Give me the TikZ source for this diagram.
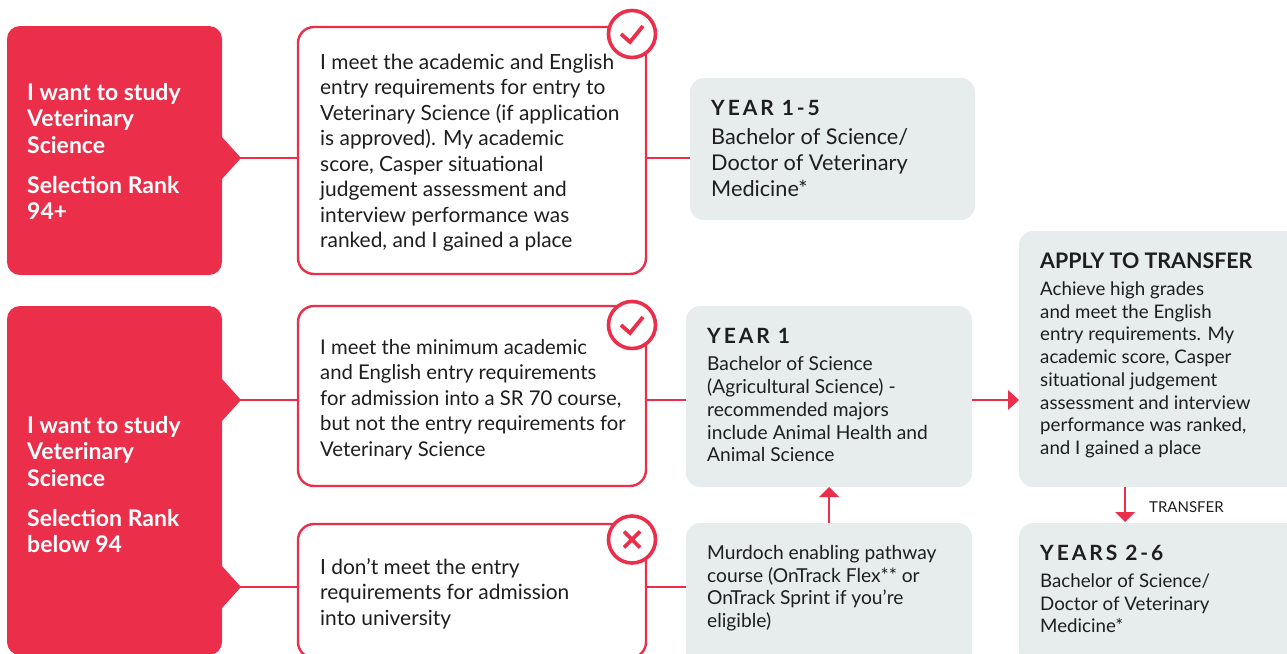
\documentclass[tikz,border=0pt]{standalone}
\usepackage{fontspec}
\setmainfont{Lato}
\definecolor{mred}{HTML}{EB2F4B}
\definecolor{mgrey}{HTML}{E6EDEC}
\definecolor{mtext}{HTML}{1E1E1E}
\tikzset{
  x=1pt,y=-1pt,
  redbox/.style={fill=mred,rounded corners=13pt},
  whitebox/.style={draw=mred,line width=2.4pt,fill=white,rounded corners=16pt},
  greybox/.style={fill=mgrey,rounded corners=14pt},
  link/.style={draw=mred,line width=2.4pt},
  body/.style={anchor=north west,align=left,inner sep=0pt,text=mtext,font=\fontsize{20.9}{25.5}\selectfont},
  bodyb/.style={anchor=north west,align=left,inner sep=0pt,text=mtext,font=\fontsize{20.3}{25.5}\selectfont},
  small/.style={anchor=north west,align=left,inner sep=0pt,text=mtext,font=\fontsize{19.2}{22.75}\selectfont},
  smaller/.style={anchor=north west,align=left,inner sep=0pt,text=mtext,font=\fontsize{18.7}{22.75}\selectfont},
  large/.style={anchor=north west,align=left,inner sep=0pt,text=mtext,font=\fontsize{21.7}{26}\selectfont},
  head/.style={anchor=north west,inner sep=0pt,text=mtext,font=\fontsize{21}{25}\selectfont\bfseries},
  redtext/.style={anchor=north west,align=left,inner sep=0pt,text=white,font=\fontsize{23}{26.5}\selectfont\bfseries},
  badge/.style={circle,draw=mred,line width=3.6pt,fill=white,minimum size=47pt,inner sep=0pt},
  glyphline/.style={draw=mred,line width=3.8pt}
}
\begin{document}
\begin{tikzpicture}
\useasboundingbox (0,0) rectangle (1287,653);
\begin{scope}
\clip (0,0) rectangle (1287,653);
% connectors
\draw[link] (222,158) -- (298,158);
\draw[link] (646,158) -- (690,158);
\draw[link] (222,400) -- (298,400);
\draw[link] (222,587) -- (298,587);
\draw[link] (646,400) -- (686,400);
\draw[link] (646,587) -- (686,587);
% red boxes
\path[redbox] (7,26) rectangle (222,275);
\fill[mred] (222,137) -- (241,158) -- (222,179) -- cycle;
\path[redbox] (7,306) rectangle (222,655);
\fill[mred] (222,379) -- (241,400) -- (222,421) -- cycle;
\fill[mred] (222,566) -- (241,587) -- (222,608) -- cycle;
\node[redtext] (r1) at (27,83) {I want to study\\Veterinary\\Science};
\node[redtext] (r1b) at (27,176) {Selection Rank\\94+};
\node[redtext] (r2) at (27,416) {I want to study\\Veterinary\\Science};
\node[redtext] (r2b) at (27,509) {Selection Rank\\below 94};
% white boxes
\path[whitebox] (298,27) rectangle (646,274);
\path[whitebox] (298,306) rectangle (646,486);
\path[whitebox] (298,524) rectangle (646,658);
\node[body] (w1) at (320,53.5) {I meet the academic and English\\entry requirements for entry to\\Veterinary Science (if application\\is approved). My academic\\score, Casper situational\\judgement assessment and\\interview performance was\\ranked, and I gained a place};
\node[bodyb] (w2) at (320,339) {I meet the minimum academic\\and English entry requirements\\for admission into a SR 70 course,\\but not the entry requirements for\\Veterinary Science};
\node[body] (w3) at (320,558) {I don’t meet the entry\\requirements for admission\\into university};
% badges
\node[badge] (b1) at (632,34) {};
\draw[glyphline] (621,34) -- (630,42) -- (643,26);
\node[badge] (b2) at (632,325) {};
\draw[glyphline] (621,325) -- (630,333) -- (643,317);
\node[badge] (b3) at (632,539.5) {};
\draw[glyphline] (624,531.5) -- (640,547.5) (640,531.5) -- (624,547.5);
% grey boxes
\path[greybox] (690,78) rectangle (975,220);
\path[greybox] (686,306) rectangle (972,487);
\path[greybox] (686,523) rectangle (972,665);
\path[greybox] (1019,231) rectangle (1300,487);
\path[greybox] (1019,523) rectangle (1300,665);
\node[head] (g1h) at (711,100) {\addfontfeature{LetterSpace=14}YEAR 1-5};
\node[large] (g1) at (711,128) {Bachelor of Science/\\Doctor of Veterinary\\Medicine*};
\node[head] (g2h) at (707,328) {\addfontfeature{LetterSpace=14}YEAR 1};
\node[small] (g2) at (707,356.5) {Bachelor of Science\\(Agricultural Science) -\\recommended majors\\include Animal Health and\\Animal Science};
\node[small] (g3) at (707,545) {Murdoch enabling pathway\\course (OnTrack Flex** or\\OnTrack Sprint if you’re\\eligible)};
\node[anchor=north west,inner sep=0pt,text=mtext,font=\fontsize{21.4}{25}\selectfont\bfseries] (g4h) at (1040,253) {APPLY TO TRANSFER};
\node[smaller] (g4) at (1040,281.5) {Achieve high grades\\and meet the English\\entry requirements. My\\academic score, Casper\\situational judgement\\assessment and interview\\performance was ranked,\\and I gained a place};
\node[head] (g5h) at (1040,545) {\addfontfeature{LetterSpace=14}YEARS 2-6};
\node[smaller] (g5) at (1040,573.5) {Bachelor of Science/\\Doctor of Veterinary\\Medicine*};
% arrows
\draw[link] (972,400) -- (1010,400);
\fill[mred] (1008,390) -- (1019,400) -- (1008,410) -- cycle;
\draw[link] (829,523) -- (829,497);
\fill[mred] (819,497) -- (829,487) -- (839,497) -- cycle;
\draw[link] (1125,487) -- (1125,513);
\fill[mred] (1115,512) -- (1125,522) -- (1135,512) -- cycle;
\node[anchor=west,inner sep=0pt,text=mtext,font=\fontsize{15}{17}\selectfont] (t) at (1149,507) {TRANSFER};
\end{scope}
\end{tikzpicture}
\end{document}
